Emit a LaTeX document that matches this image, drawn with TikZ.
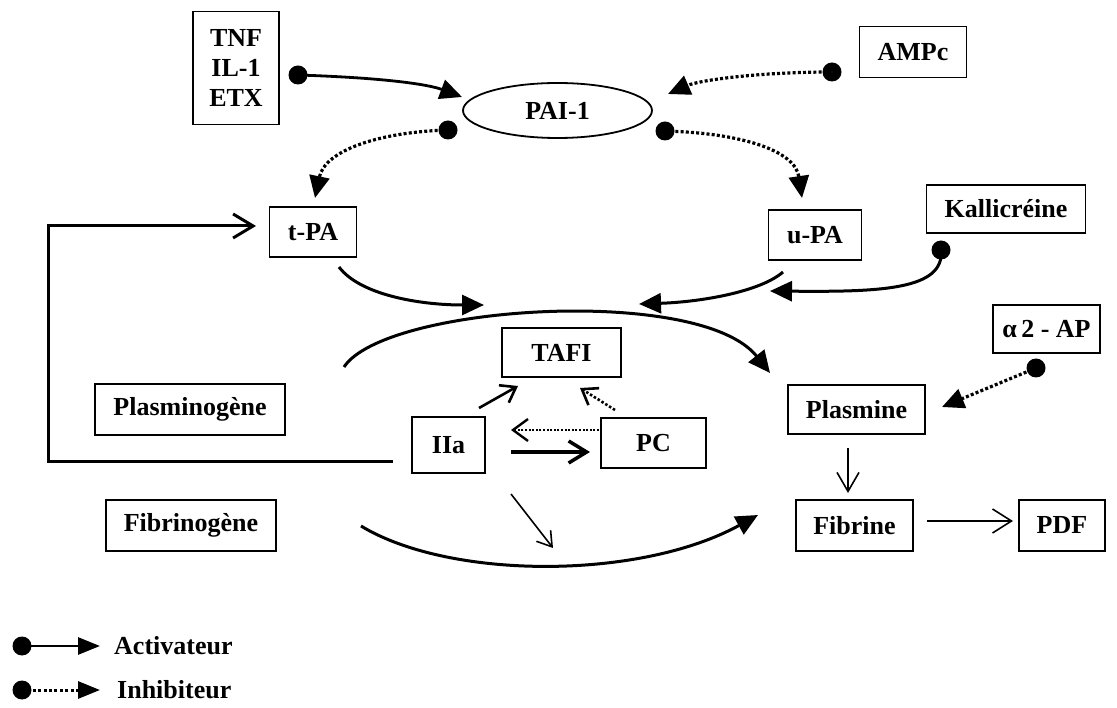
\documentclass[tikz,border=0pt]{standalone}
\usepackage{fontspec}
\setmainfont{Liberation Serif}
\usetikzlibrary{arrows.meta,shapes.geometric}
\tikzset{
  box/.style={draw, line width=1.8pt, inner sep=0pt, align=center, font=\bfseries\fontsize{26}{30}\selectfont},
  lbl/.style={inner sep=0pt, font=\bfseries\fontsize{26}{30}\selectfont},
  blob/.style={fill, circle, inner sep=0pt, minimum size=19pt},
  act/.style={line width=2.8pt, -{Triangle[length=22pt,width=20pt]}},
  inh/.style={line width=3.2pt, dash pattern=on 3pt off 2.2pt, -{Triangle[length=22pt,width=20pt]}},
  thick3/.style={line width=3pt, -{Triangle[length=22pt,width=20pt]}},
}
\begin{document}
\begin{tikzpicture}[x=1pt,y=-1pt]
\useasboundingbox (0,0) rectangle (1117,708);
% nodes
\node[box, minimum width=86pt, minimum height=113pt] (tnf) at (236,68) {TNF\\IL-1\\ETX};
\node[draw, ellipse, line width=1.8pt, inner sep=0pt, minimum width=189pt, minimum height=55pt, font=\bfseries\fontsize{26}{30}\selectfont] (pai) at (557.5,110.5) {PAI-1};
\node[box, minimum width=107pt, minimum height=51pt] (amp) at (913,52) {AMPc};
\node[box, minimum width=87pt, minimum height=50pt] (tpa) at (313,232) {t-PA};
\node[box, minimum width=93pt, minimum height=50pt] (upa) at (815,235) {u-PA};
\node[box, minimum width=159pt, minimum height=48pt] (kal) at (1006,209) {Kallicréine};
\node[box, minimum width=119pt, minimum height=49pt] (tafi) at (561.5,352.5) {TAFI};
\node[box, minimum width=190pt, minimum height=51pt] (plg) at (190,409.5) {Plasminogène};
\node[box, minimum width=73pt, minimum height=56pt] (iia) at (448.5,445) {IIa};
\node[box, minimum width=105pt, minimum height=50pt] (pc) at (653.5,443) {PC};
\node[box, minimum width=137pt, minimum height=49pt] (pls) at (856.5,409.5) {Plasmine};
\node[box, minimum width=107pt, minimum height=48pt] (a2ap) at (1046.5,329) {α\,2 - AP};
\node[box, minimum width=170pt, minimum height=51pt] (fbg) at (191,525.5) {Fibrinogène};
\node[box, minimum width=117pt, minimum height=51pt] (fib) at (854.5,525.5) {Fibrine};
\node[box, minimum width=86pt, minimum height=51pt] (pdf) at (1062,525.5) {PDF};
% dots
\node[blob] (dtnf) at (298,75) {};
\node[blob] (damp) at (832,72) {};
\node[blob] (dpl) at (448,130) {};
\node[blob] (dpr) at (665,131) {};
\node[blob] (dkal) at (941,250) {};
\node[blob] (da2) at (1036,368) {};
% coordinates
\coordinate (ttnf) at (462,97);
\coordinate (tamp) at (668,94);
\coordinate (ttpa) at (315,198);
\coordinate (tupa) at (802,198);
\coordinate (tkal) at (770,291);
\coordinate (ta2) at (942,407);
\coordinate (fbs) at (393,462);
\coordinate (fbx) at (48,226);
\coordinate (fbe) at (256,226);
\coordinate (tpas) at (339,267);
\coordinate (tpae) at (484,305);
\coordinate (upas) at (783,272);
\coordinate (upae) at (639,304);
\coordinate (bigs) at (344,367);
\coordinate (bige) at (770,373);
\coordinate (bots) at (361,526);
\coordinate (bote) at (758,515);
\coordinate (iat1) at (479,408);
\coordinate (iat2) at (518,386);
\coordinate (pct1) at (615,410);
\coordinate (pct2) at (580,388);
\coordinate (pci1) at (599,430);
\coordinate (pci2) at (511,430);
\coordinate (ipc1) at (511,452);
\coordinate (ipc2) at (590,452);
\coordinate (ib1) at (511,494);
\coordinate (ib2) at (553,548);
\coordinate (pf1) at (848,448);
\coordinate (pf2) at (848,493);
\coordinate (fp1) at (927,521);
\coordinate (fp2) at (1013,521);
% connectors
\draw[act] (dtnf.center) .. controls (390,78) and (430,85) .. (ttnf);
\draw[inh] (damp.center) .. controls (760,72) and (700,80) .. (tamp);
\draw[inh] (dpl.center) .. controls (380,132) and (325,150) .. (ttpa);
\draw[inh] (dpr.center) .. controls (740,133) and (795,150) .. (tupa);
\draw[thick3] (dkal.center) .. controls (945,290) and (880,292) .. (tkal);
\draw[inh] (da2.center) -- (ta2);
\draw[line width=3pt, -{Straight Barb[length=20pt,width=24pt]}, line join=miter] (fbs) -| (fbx) -- (fbe);
\draw[thick3] (tpas) .. controls (360,295) and (420,305) .. (tpae);
\draw[thick3] (upas) .. controls (760,292) and (700,302) .. (upae);
\draw[thick3] (bigs) .. controls (385,305) and (700,285) .. (bige);
\draw[thick3] (bots) .. controls (450,580) and (640,580) .. (bote);
\draw[line width=2.6pt, -{Straight Barb[length=14pt,width=20pt]}] (iat1) -- (iat2);
\draw[line width=2.6pt, dash pattern=on 2.5pt off 2pt, -{Straight Barb[length=14pt,width=20pt]}] (pct1) -- (pct2);
\draw[line width=2.4pt, dash pattern=on 2pt off 1.6pt, -{Straight Barb[length=15pt,width=22pt]}] (pci1) -- (pci2);
\draw[line width=3.5pt, -{Straight Barb[length=18pt,width=22pt]}] (ipc1) -- (ipc2);
\draw[line width=1.6pt, -{Straight Barb[length=14pt,width=18pt]}] (ib1) -- (ib2);
\draw[line width=1.6pt, -{Straight Barb[length=19pt,width=22pt]}] (pf1) -- (pf2);
\draw[line width=1.6pt, -{Straight Barb[length=19pt,width=24pt]}] (fp1) -- (fp2);
% legend
\node[blob] (lg1) at (22,646) {};
\node[blob] (lg2) at (22,690) {};
\coordinate (lt1) at (100,646);
\coordinate (lt2) at (100,690);
\draw[line width=2.8pt, -{Triangle[length=22pt,width=17pt]}] (lg1.center) -- (lt1);
\draw[line width=3pt, dash pattern=on 3pt off 2.4pt, -{Triangle[length=22pt,width=17pt]}] (lg2.center) -- (lt2);
\node[lbl, anchor=west] (lact) at (114,646) {Activateur};
\node[lbl, anchor=west] (linh) at (117,690) {Inhibiteur};
\end{tikzpicture}
\end{document}
